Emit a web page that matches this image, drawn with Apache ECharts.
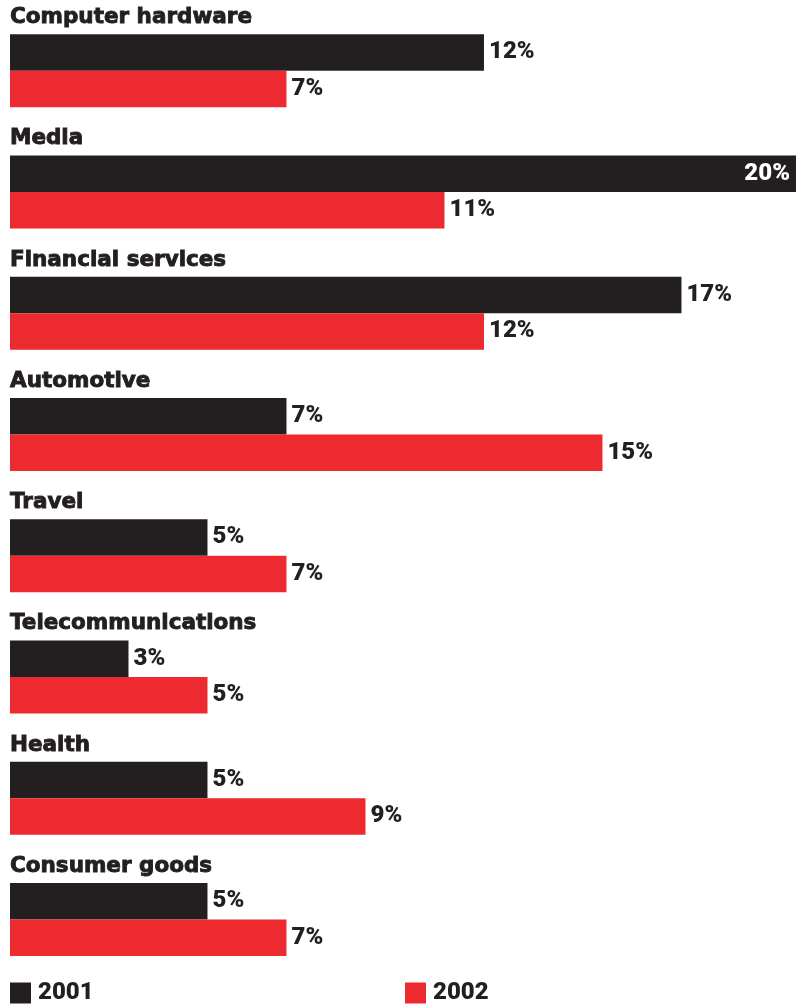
<!DOCTYPE html>
<html>
<head>
<meta charset="utf-8">
<style>
  html, body { margin: 0; padding: 0; background: #ffffff; }
  #chart { width: 796px; height: 1007px; }
</style>
<script src="https://cdn.jsdelivr.net/npm/echarts@6/dist/echarts.min.js"></script>
</head>
<body>
<div id="chart"></div>
<script>
// Share by industry, 2001 vs 2002 (percent)
const categories = [
  'Computer hardware', 'Media', 'Financial services', 'Automotive',
  'Travel', 'Telecommunications', 'Health', 'Consumer goods'
];
const years = ['2001', '2002'];
const values2001 = [12, 20, 17, 7, 5, 3, 5, 5];
const values2002 = [7, 11, 12, 15, 7, 5, 9, 7];

const BLACK = '#231f20';
const RED = '#ec2a2f';
const FONT = 'Roboto';
const TITLE_FONT = 'DejaVu Sans';
// the axis stops just short of 20%, so the longest bar runs off the right edge
const AXIS_MAX = 19.9;

function valueLabel(color) {
  return {
    show: true,
    position: 'right',
    distance: 5,
    formatter: '{c}%',
    color: color,
    fontFamily: FONT,
    fontWeight: 900,
    fontSize: 24
  };
}

// a bar that runs past the axis end carries its label inside, in white
function seriesData(values) {
  return values.map(v => v >= AXIS_MAX ? {
    value: v,
    label: { position: 'insideRight', color: '#ffffff', distance: 6 }
  } : v);
}

const chart = echarts.init(document.getElementById('chart'), null, { renderer: 'canvas' });
chart.setOption({
  animation: false,
  backgroundColor: '#ffffff',
  grid: { left: 10, right: 0, top: 10, height: 970, containLabel: false },
  xAxis: {
    type: 'value', min: 0, max: AXIS_MAX, show: false
  },
  yAxis: {
    type: 'category',
    data: categories,
    inverse: true,
    axisLine: { show: false },
    axisTick: { show: false },
    splitLine: { show: false },
    axisLabel: {
      inside: true,
      interval: 0,
      showMinLabel: true,
      showMaxLabel: true,
      hideOverlap: false,
      margin: 0,
      align: 'left',
      verticalAlign: 'middle',
      // category name sits above its pair of bars: an empty spacer line below lifts it
      formatter: v => '{t|' + v + '}\n{gap|}',
      rich: {
        t: {
          color: BLACK, fontFamily: TITLE_FONT, fontWeight: 'bold', fontSize: 21.5, lineHeight: 24,
          textBorderColor: BLACK, textBorderWidth: 0.9
        },
        gap: { height: 106, lineHeight: 106 }
      }
    }
  },
  legend: [
    {
      data: [years[0]], left: 10, top: 981, padding: 0,
      itemWidth: 21, itemHeight: 21, itemGap: 0, icon: 'rect',
      textStyle: { color: BLACK, fontFamily: FONT, fontWeight: 900, fontSize: 24, padding: [0, 0, 0, 2] }
    },
    {
      data: [years[1]], left: 405, top: 981, padding: 0,
      itemWidth: 21, itemHeight: 21, itemGap: 0, icon: 'rect',
      textStyle: { color: BLACK, fontFamily: FONT, fontWeight: 900, fontSize: 24, padding: [0, 0, 0, 2] }
    }
  ],
  series: [
    {
      name: years[0], type: 'bar', data: seriesData(values2001),
      barWidth: 36.5, barGap: '0%',
      itemStyle: { color: BLACK },
      label: valueLabel(BLACK)
    },
    {
      name: years[1], type: 'bar', data: seriesData(values2002),
      barWidth: 36.5, barGap: '0%',
      itemStyle: { color: RED },
      label: valueLabel(BLACK)
    }
  ]
});
</script>
</body>
</html>
